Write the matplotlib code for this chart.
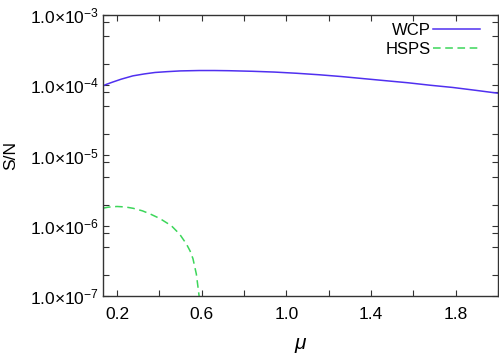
import matplotlib
matplotlib.use("Agg")
import matplotlib.pyplot as plt
import numpy as np
from matplotlib.ticker import FixedLocator, LogLocator, FuncFormatter, NullFormatter

plt.rcParams['font.family'] = ['Liberation Sans', 'DejaVu Sans']
plt.rcParams['mathtext.fontset'] = 'custom'
plt.rcParams['mathtext.rm'] = 'Liberation Sans'
plt.rcParams['mathtext.it'] = 'Liberation Sans:italic'

# data
mu_wcp = [0.134, 0.15, 0.18, 0.22, 0.275, 0.33, 0.38, 0.435, 0.5, 0.59, 0.66, 0.73,
          0.84, 0.944, 1.05, 1.155, 1.26, 1.367, 1.47, 1.574, 1.68, 1.786, 1.89, 2.0]
sn_wcp = [0.98e-4, 1.03e-4, 1.11e-4, 1.22e-4, 1.36e-4, 1.45e-4, 1.52e-4, 1.56e-4,
          1.60e-4, 1.62e-4, 1.62e-4, 1.61e-4, 1.58e-4, 1.54e-4, 1.48e-4, 1.41e-4,
          1.33e-4, 1.24e-4, 1.16e-4, 1.085e-4, 1.00e-4, 0.93e-4, 0.85e-4, 0.77e-4]

mu_hsps = [0.134, 0.16, 0.2, 0.24, 0.277, 0.32, 0.355, 0.402, 0.457, 0.496, 0.528,
           0.545, 0.559, 0.575, 0.586, 0.592]
sn_hsps = [1.78e-6, 1.84e-6, 1.88e-6, 1.85e-6, 1.77e-6, 1.63e-6, 1.48e-6, 1.27e-6,
           1.0e-6, 7.6e-7, 5.5e-7, 4.4e-7, 3.4e-7, 2.05e-7, 1.12e-7, 0.8e-7]

xmajor = [0.2, 0.6, 1.0, 1.4, 1.8]
xminor = [0.4, 0.8, 1.2, 1.6, 2.0]

fig = plt.figure(figsize=(4.99, 3.57), dpi=100)
ax = fig.add_axes((0.2064, 0.1709, 0.7916, 0.7871))

ax.plot(mu_wcp, sn_wcp, color='#5030f0', lw=1.1, label='WCP')
ax.plot(mu_hsps, sn_hsps, color='#3cd65a', lw=1.1, dashes=(5, 3), label='HSPS')

ax.set_yscale('log')
ax.set_xlim(0.134, 2.0)
ax.set_ylim(1e-7, 1e-3)

ax.xaxis.set_major_locator(FixedLocator(xmajor))
ax.xaxis.set_minor_locator(FixedLocator(xminor))
ax.yaxis.set_major_locator(LogLocator(base=10, numticks=10))
ax.yaxis.set_minor_locator(LogLocator(base=10, subs=[2, 5, 8], numticks=20))
ax.yaxis.set_minor_formatter(NullFormatter())


def sci(v, pos):
    e = int(round(np.log10(v)))
    return '1.0×10$^{%d}$' % e


ax.yaxis.set_major_formatter(FuncFormatter(sci))
ax.xaxis.set_major_formatter(FuncFormatter(lambda v, p: '%.1f' % v))

ax.tick_params(which='both', direction='in', top=True, right=True,
               length=4, width=0.8, color='#333333', labelsize=12.5)
ax.tick_params(axis='x', pad=8)
ax.tick_params(axis='y', pad=3)
for s in ax.spines.values():
    s.set_color('#333333')
    s.set_linewidth(1.0)

ax.set_xlabel(r'$\mu$', fontsize=15, labelpad=10)
ax.set_ylabel('S/N', fontsize=12.5, labelpad=8)

ax.legend(loc='upper right', frameon=False, markerfirst=False, fontsize=12,
          handlelength=2.8, handletextpad=0.15, labelspacing=0.2,
          borderaxespad=0.1, bbox_to_anchor=(0.975, 1.0))

fig.savefig('out.png', dpi=100)
